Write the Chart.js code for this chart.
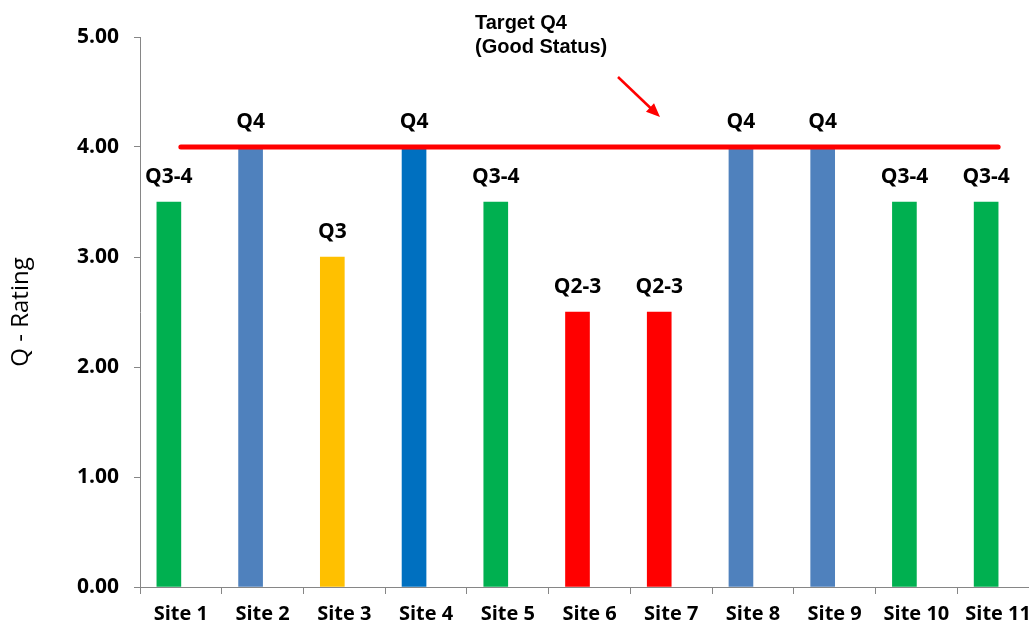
<!DOCTYPE html>
<html>
<head>
<meta charset="utf-8">
<script src="https://cdn.jsdelivr.net/npm/chart.js@4.4.1/dist/chart.umd.min.js"></script>
<style>
  html, body { margin: 0; padding: 0; background: #fff; overflow: hidden; }
  #wrap { width: 1029px; height: 629px; overflow: hidden; }
</style>
</head>
<body>
<div id="wrap">
  <canvas id="qChart" width="1050" height="629"></canvas>
</div>
<script>
// サイトごとの Q-Rating
const sites = ['Site 1', 'Site 2', 'Site 3', 'Site 4', 'Site 5', 'Site 6', 'Site 7', 'Site 8', 'Site 9', 'Site 10', 'Site 11'];
const ratings = [3.5, 4, 3, 4, 3.5, 2.5, 2.5, 4, 4, 3.5, 3.5];
const ratingLabels = ['Q3-4', 'Q4', 'Q3', 'Q4', 'Q3-4', 'Q2-3', 'Q2-3', 'Q4', 'Q4', 'Q3-4', 'Q3-4'];
const barColors = ['#00B050', '#4F81BD', '#FFC000', '#0070C0', '#00B050', '#FF0000', '#FF0000', '#4F81BD', '#4F81BD', '#00B050', '#00B050'];
const targetValue = 4;
const targetLine = sites.map(() => targetValue);
// 空の系列（Excel と同じく棒を少し左に寄せるため）
const emptySeries = sites.map(() => null);
const yTicks = [0, 1, 2, 3, 4, 5];

const axisGrey = '#868686';

// 棒の上のラベル
const barLabelPlugin = {
    id: 'barLabels',
    afterDatasetsDraw(chart) {
        const ctx = chart.ctx;
        const meta = chart.getDatasetMeta(1);
        ctx.save();
        ctx.font = 'bold 21px "Open Sans"';
        ctx.fillStyle = '#000';
        ctx.textAlign = 'center';
        ctx.textBaseline = 'alphabetic';
        meta.data.forEach((bar, i) => {
            ctx.fillText(ratingLabels[i], bar.x, bar.y - 19);
        });
        ctx.restore();
    }
};

// 目標の注記と矢印
const targetNotePlugin = {
    id: 'targetNote',
    afterDraw(chart) {
        const ctx = chart.ctx;
        ctx.save();
        ctx.fillStyle = '#000';
        ctx.font = 'bold 20px "Liberation Sans"';
        ctx.textAlign = 'left';
        ctx.textBaseline = 'alphabetic';
        ctx.fillText('Target Q4', 475, 29);
        ctx.fillText('(Good Status)', 475, 53);

        const x1 = 618, y1 = 77, x2 = 660, y2 = 117;
        const ang = Math.atan2(y2 - y1, x2 - x1);
        const head = 15;
        ctx.strokeStyle = '#FF0000';
        ctx.fillStyle = '#FF0000';
        ctx.lineWidth = 2.5;
        ctx.beginPath();
        ctx.moveTo(x1, y1);
        ctx.lineTo(x2 - head * 0.8 * Math.cos(ang), y2 - head * 0.8 * Math.sin(ang));
        ctx.stroke();
        ctx.beginPath();
        ctx.moveTo(x2, y2);
        ctx.lineTo(x2 - head * Math.cos(ang - 0.4), y2 - head * Math.sin(ang - 0.4));
        ctx.lineTo(x2 - head * Math.cos(ang + 0.4), y2 - head * Math.sin(ang + 0.4));
        ctx.closePath();
        ctx.fill();
        ctx.restore();
    }
};

const ctx = document.getElementById('qChart').getContext('2d');
new Chart(ctx, {
    data: {
        labels: sites,
        datasets: [{
            type: 'line',
            label: 'Target',
            data: targetLine,
            borderColor: '#FF0000',
            borderWidth: 5,
            borderCapStyle: 'round',
            pointRadius: 0,
            fill: false,
            order: 0
        }, {
            type: 'bar',
            label: 'Q - Rating',
            data: ratings,
            backgroundColor: barColors,
            borderWidth: 0,
            barThickness: 24,
            order: 1
        }, {
            type: 'bar',
            label: '',
            data: emptySeries,
            barThickness: 24,
            order: 2
        }]
    },
    plugins: [barLabelPlugin, targetNotePlugin],
    options: {
        responsive: false,
        animation: false,
        layout: {
            padding: { top: 37, right: 11, left: 0, bottom: 0 }
        },
        scales: {
            x: {
                grid: {
                    display: true,
                    drawOnChartArea: false,
                    drawTicks: true,
                    tickLength: 7,
                    color: axisGrey,
                    offset: true
                },
                border: { display: true, color: axisGrey, width: 1 },
                ticks: {
                    color: '#000',
                    padding: 8,
                    maxRotation: 0,
                    font: { family: 'Open Sans', size: 20, weight: 'bold' }
                },
                afterFit(scale) { scale.height = 42; }
            },
            y: {
                min: 0,
                max: 5,
                afterBuildTicks(scale) {
                    scale.ticks = yTicks.map(v => ({ value: v }));
                },
                grid: {
                    display: true,
                    drawOnChartArea: false,
                    drawTicks: true,
                    tickLength: 6,
                    color: axisGrey
                },
                border: { display: true, color: axisGrey, width: 1 },
                ticks: {
                    color: '#000',
                    padding: 15,
                    font: { family: 'Open Sans', size: 21, weight: 'bold' },
                    callback: v => Number(v).toFixed(2)
                },
                title: {
                    display: true,
                    text: 'Q - Rating',
                    color: '#000',
                    padding: { top: 7, bottom: 0 },
                    font: { family: 'Open Sans', size: 24, weight: '500' }
                },
                afterFit(scale) { scale.width = 140; }
            }
        },
        plugins: {
            legend: { display: false },
            tooltip: { enabled: false }
        }
    }
});
</script>
</body>
</html>
